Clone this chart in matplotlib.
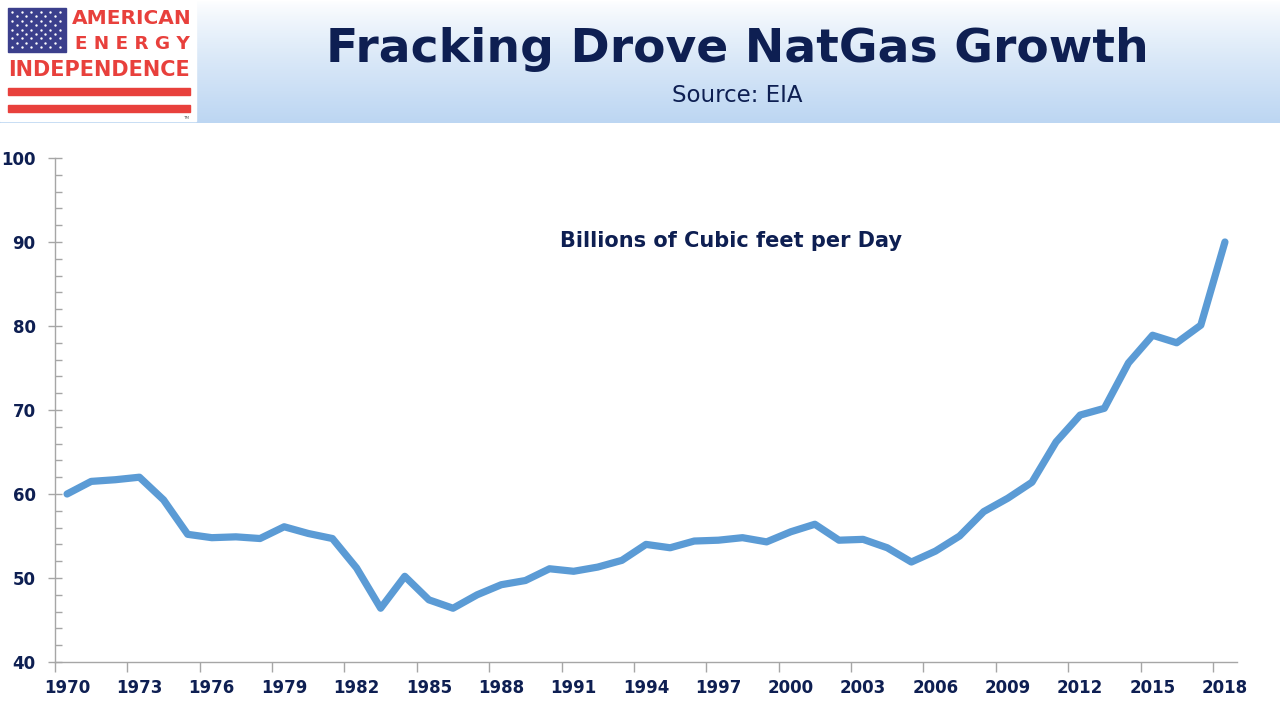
import numpy as np
import matplotlib.pyplot as plt
from matplotlib.patches import Rectangle

###
# DATA
###
years = list(range(1970, 2019))
bcf_per_day = [60.0, 61.5, 61.7, 62.0, 59.3, 55.2, 54.8, 54.9, 54.7, 56.1,
               55.3, 54.7, 51.2, 46.4, 50.2, 47.4, 46.4, 48.0, 49.2, 49.7,
               51.1, 50.8, 51.3, 52.1, 54.0, 53.6, 54.4, 54.5, 54.8, 54.3,
               55.5, 56.4, 54.5, 54.6, 53.6, 51.9, 53.2, 55.0, 57.9, 59.5,
               61.4, 66.2, 69.4, 70.2, 75.6, 78.9, 78.0, 80.1, 90.0]
y_ticks = [40, 50, 60, 70, 80, 90, 100]
title = "Fracking Drove NatGas Growth"
source = "Source: EIA"
units = "Billions of Cubic feet per Day"

NAVY = "#0e1f52"
BLUE = "#5b9bd5"
RED = "#e8403c"
W, H = 1280, 720

fig = plt.figure(figsize=(W / 100, H / 100), dpi=100)
fig.patch.set_facecolor("white")

## header band: white at top fading to light blue
hdr = fig.add_axes([0, 1 - 123 / H, 1, 123 / H])
grad = np.linspace(0, 1, 100)[:, None]
top = np.array([1.0, 1.0, 1.0])
bot = np.array([0.74, 0.84, 0.95])
img = top + (bot - top) * grad ** 0.8
hdr.imshow(np.repeat(img[:, None, :], 2, axis=1), aspect="auto",
           extent=[0, W, 123, 0])
hdr.set_xlim(0, W)
hdr.set_ylim(123, 0)
hdr.axis("off")
hdr.text(737, 50, title, ha="center", va="center", fontsize=34,
         fontweight="bold", color=NAVY)
hdr.text(737, 95, source, ha="center", va="center", fontsize=16.5, color=NAVY)

## logo box
hdr.add_patch(Rectangle((0, 0), 196, 121, color="white", zorder=2))
hdr.add_patch(Rectangle((8, 8), 58, 44, color="#3b3f8c", zorder=3))
for r in range(9):
    n = 6 if r % 2 == 0 else 5
    off = 0 if r % 2 == 0 else 4.5
    xs = 12 + off + np.arange(n) * 9.5
    hdr.scatter(xs, np.full(n, 12 + r * 4.4), s=3, color="white", zorder=4,
                linewidths=0)
hdr.text(132, 19, "AMERICAN", ha="center", va="center", fontsize=14.5,
         color=RED, zorder=4, fontweight="bold")
hdr.text(132, 44, "E N E R G Y", ha="center", va="center", fontsize=13.2,
         color=RED, zorder=4, fontweight="bold")
hdr.text(99, 70, "INDEPENDENCE", ha="center", va="center", fontsize=15,
         color=RED, zorder=4, fontweight="bold")
hdr.add_patch(Rectangle((8, 88), 182, 7, color=RED, zorder=3))
hdr.add_patch(Rectangle((8, 105), 182, 7, color=RED, zorder=3))
hdr.text(186, 118, "TM", ha="center", va="center", fontsize=3,
         color="#555555", zorder=4)

## main chart
ax = fig.add_axes([55 / W, 1 - 662 / H, 1182 / W, 504 / H])
x = np.arange(len(years))
ax.plot(x, bcf_per_day, color=BLUE, lw=5.2, solid_joinstyle="round",
        solid_capstyle="round")

ax.set_xlim(-0.5, len(years) - 0.5)
ax.set_ylim(40, 100)
ax.set_yticks(y_ticks)
ax.set_yticks(np.arange(40, 101, 2), minor=True)

## category axis: marks on boundaries, labels on the categories
ax.set_xticks(np.arange(-0.5, len(years), 3))
ax.set_xticklabels([])
ax.set_xticks(x[::3], minor=True)
ax.set_xticklabels([str(y) for y in years[::3]], minor=True)
ax.tick_params(axis="x", which="major", length=7, color="#a6a6a6", width=1)
ax.tick_params(axis="x", which="minor", length=0, pad=12)
ax.tick_params(axis="y", which="major", direction="inout", length=10,
               color="#a6a6a6", width=1, pad=9)
ax.tick_params(axis="y", which="minor", direction="in", length=5,
               color="#a6a6a6", width=1)
for lbl in ax.get_xticklabels(minor=True) + ax.get_yticklabels():
    lbl.set_fontsize(12)
    lbl.set_fontweight("bold")
    lbl.set_color(NAVY)

for side in ["top", "right"]:
    ax.spines[side].set_visible(False)
for side in ["left", "bottom"]:
    ax.spines[side].set_color("#a6a6a6")
    ax.spines[side].set_linewidth(1)

ax.text(0.572, 0.836, units, transform=ax.transAxes, ha="center",
        va="center", fontsize=15, fontweight="bold", color=NAVY)

fig.savefig("out.png", dpi=100)
